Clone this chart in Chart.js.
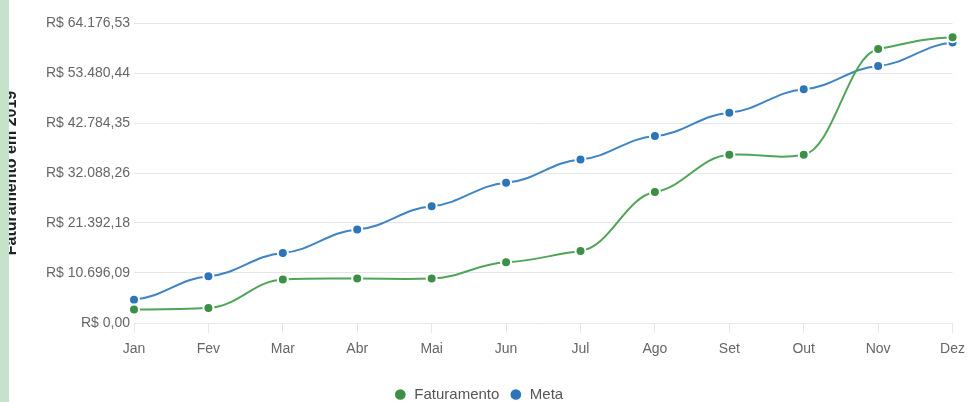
<!DOCTYPE html>
<html>
<head>
<meta charset="utf-8">
<title>Faturamento em 2019</title>
<script src="https://cdn.jsdelivr.net/npm/chart.js"></script>
<style>
    html, body {
        margin: 0;
        padding: 0;
        background: #fff;
        overflow: hidden;
    }
    .wrap {
        position: relative;
        width: 973px;
        height: 412px;
    }
    .strip {
        position: absolute;
        left: 0;
        top: 0;
        width: 9px;
        height: 402px;
        background: #c6e2cb;
    }
</style>
</head>
<body>
<div class="wrap">
    <canvas id="chart"></canvas>
    <div class="strip"></div>
</div>
<script>
const months = ['Jan', 'Fev', 'Mar', 'Abr', 'Mai', 'Jun', 'Jul', 'Ago', 'Set', 'Out', 'Nov', 'Dez'];
const faturamento = [2900, 3200, 9300, 9500, 9500, 13000, 15400, 28000, 36000, 36000, 58600, 61120.5];
const meta = [5000, 10000, 15000, 20000, 25000, 30000, 35000, 40000, 45000, 50000, 55000, 60000];
const yTicks = [0, 10696.09, 21392.18, 32088.26, 42784.35, 53480.44, 64176.53];

function brl(v) {
    const parts = v.toFixed(2).split('.');
    const int = parts[0].replace(/\B(?=(\d{3})+(?!\d))/g, '.');
    return 'R$ ' + int + ',' + parts[1];
}

// curvas "achatadas" nos pontos (tangente quase horizontal), como no original
const flatCurves = {
    id: 'flatCurves',
    beforeDatasetsDraw(chart) {
        chart.data.datasets.forEach((ds, i) => {
            const meta = chart.getDatasetMeta(i);
            const pts = meta.data;
            const n = pts.length;
            for (let j = 0; j < n; j++) {
                const p = pts[j];
                const prev = pts[Math.max(j - 1, 0)];
                const next = pts[Math.min(j + 1, n - 1)];
                const slope = 0.25 * (next.y - prev.y) / ((next.x - prev.x) || 1);
                const hPrev = j > 0 ? (p.x - prev.x) * 0.4 : 0;
                const hNext = j < n - 1 ? (next.x - p.x) * 0.4 : 0;
                p.cp1x = p.x - hPrev;
                p.cp1y = p.y - slope * hPrev;
                p.cp2x = p.x + hNext;
                p.cp2y = p.y + slope * hNext;
            }
            meta.dataset._pointsUpdated = true;
        });
    }
};

const font = 'Liberation Sans, Arial, sans-serif';

new Chart(document.getElementById('chart'), {
    type: 'line',
    data: {
        labels: months,
        datasets: [{
            label: 'Faturamento',
            data: faturamento,
            borderColor: '#4fa557',
            backgroundColor: '#3d8f45',
            pointBackgroundColor: '#3d8f45',
            pointBorderColor: '#fff',
            pointBorderWidth: 2,
            pointRadius: 5,
            borderWidth: 2,
            tension: 0.4,
            fill: false
        }, {
            label: 'Meta',
            data: meta,
            borderColor: '#3f84c3',
            backgroundColor: '#2c75b9',
            pointBackgroundColor: '#2c75b9',
            pointBorderColor: '#fff',
            pointBorderWidth: 2,
            pointRadius: 5,
            borderWidth: 2,
            tension: 0.4,
            fill: false
        }]
    },
    options: {
        responsive: true,
        maintainAspectRatio: false,
        animation: false,
        layout: {
            padding: { top: 23, right: 16, left: 0, bottom: 0 }
        },
        scales: {
            x: {
                border: { display: false },
                grid: {
                    drawOnChartArea: false,
                    drawTicks: true,
                    tickLength: 10,
                    color: '#e6e6e6'
                },
                ticks: {
                    color: '#666',
                    padding: 8,
                    font: { family: font, size: 14 }
                },
                afterFit: (s) => { s.height = 54; }
            },
            y: {
                min: 0,
                max: yTicks[yTicks.length - 1],
                border: { display: false },
                grid: {
                    color: '#e6e6e6',
                    drawTicks: false
                },
                afterBuildTicks: (s) => { s.ticks = yTicks.map(v => ({ value: v })); },
                afterFit: (s) => { s.width = 134; },
                ticks: {
                    color: '#666',
                    padding: 4,
                    font: { family: font, size: 14 },
                    callback: (v) => brl(v)
                },
                title: {
                    display: true,
                    text: 'Faturamento em 2019',
                    color: '#222',
                    padding: { top: 2, bottom: 2 },
                    font: { family: font, size: 16, weight: 'bold' }
                }
            }
        },
        plugins: {
            legend: {
                position: 'bottom',
                labels: {
                    usePointStyle: true,
                    pointStyle: 'circle',
                    boxWidth: 13,
                    boxHeight: 9,
                    padding: 10,
                    color: '#555',
                    font: { family: font, size: 15 }
                }
            },
            tooltip: { enabled: false }
        }
    },
    plugins: [flatCurves]
});
</script>
</body>
</html>
